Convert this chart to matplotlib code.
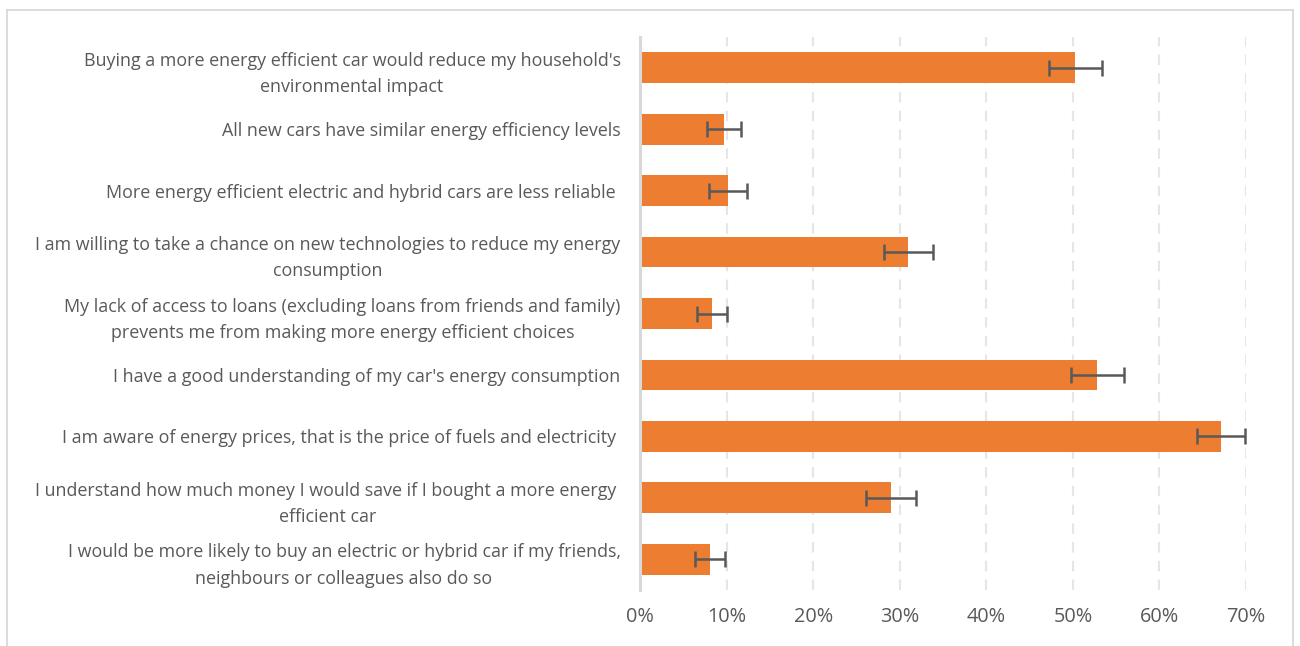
import matplotlib
matplotlib.use("Agg")
import matplotlib.pyplot as plt
from matplotlib.lines import Line2D
from matplotlib.ticker import FuncFormatter

categories = [
    "Buying a more energy efficient car would reduce my household's\nenvironmental impact",
    "All new cars have similar energy efficiency levels",
    "More energy efficient electric and hybrid cars are less reliable ",
    "I am willing to take a chance on new technologies to reduce my energy\nconsumption",
    "My lack of access to loans (excluding loans from friends and family)\nprevents me from making more energy efficient choices",
    "I have a good understanding of my car's energy consumption",
    "I am aware of energy prices, that is the price of fuels and electricity ",
    "I understand how much money I would save if I bought a more energy \nefficient car",
    "I would be more likely to buy an electric or hybrid car if my friends,\nneighbours or colleagues also do so",
]
values = [50.3, 9.7, 10.2, 31.0, 8.3, 52.8, 67.1, 29.0, 8.1]
errors = [3.1, 2.0, 2.2, 2.85, 1.7, 3.05, 2.8, 2.85, 1.7]
xticks = [0, 10, 20, 30, 40, 50, 60, 70]

plt.rcParams['font.family'] = ['Open Sans', 'DejaVu Sans']

fig = plt.figure(figsize=(13, 6.46), dpi=100)
ax = fig.add_axes([0.4923, 0.0867, 0.9585 - 0.4923, 0.9427 - 0.0867])

n = len(categories)
ypos = list(range(n))
ax.barh(ypos, values, height=0.5, color='#ED7D31', zorder=3,
        xerr=errors, error_kw=dict(ecolor='#595959', elinewidth=1.8, capsize=5.5, capthick=1.8, zorder=4))
ax.set_ylim(n - 0.5, -0.5)
ax.set_xlim(0, 70)
ax.set_xticks(xticks)
ax.xaxis.set_major_formatter(FuncFormatter(lambda v, p: f"{int(v)}%"))
ax.set_yticks(ypos)
ax.set_yticklabels(categories, fontsize=12.9, color='#595959', linespacing=1.6,
                   multialignment='center')
ax.tick_params(axis='x', labelsize=14.3, labelcolor='#595959', length=0, pad=12)
ax.tick_params(axis='y', length=0, pad=14)
for s in ['top', 'right', 'bottom']:
    ax.spines[s].set_visible(False)
ax.spines['left'].set_color('#D9D9D9')
ax.spines['left'].set_linewidth(2.2)
ax.spines['left'].set_zorder(5)
ax.grid(axis='x', color='#E6E6E6', linestyle=(0, (5, 4)), linewidth=1.5, zorder=0)
ax.set_axisbelow(True)

# figure border
bc = '#D9D9D9'
x0, x1 = 7 / 1300, 1293 / 1300
ytop = 1 - 10 / 646
fig.add_artist(Line2D([x0, x1], [ytop, ytop], color=bc, lw=1.3, transform=fig.transFigure))
fig.add_artist(Line2D([x0, x0], [0, ytop], color=bc, lw=1.3, transform=fig.transFigure))
fig.add_artist(Line2D([x1, x1], [0, ytop], color=bc, lw=1.3, transform=fig.transFigure))

fig.savefig('out.png', dpi=100)
